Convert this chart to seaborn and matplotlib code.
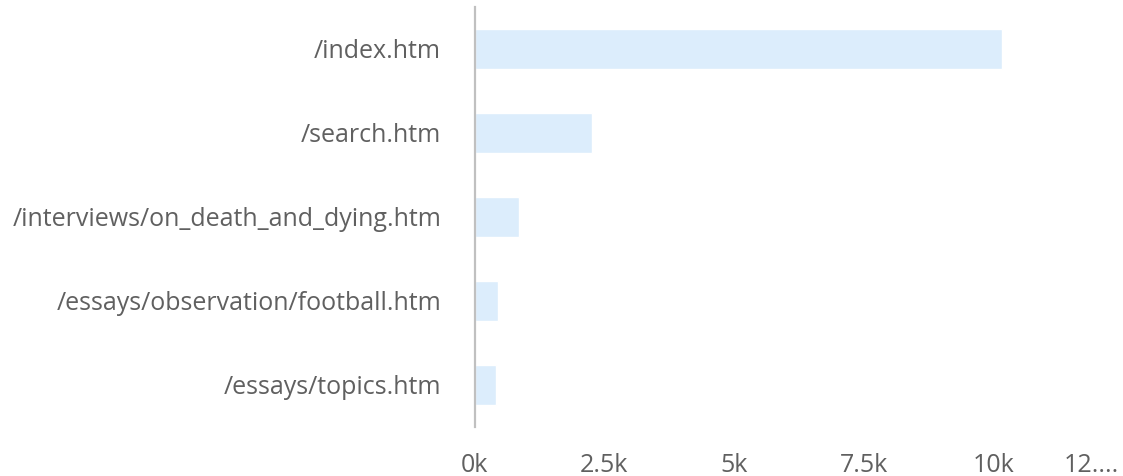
import matplotlib
matplotlib.use("Agg")
import matplotlib.pyplot as plt
import matplotlib.transforms as mtransforms
import seaborn as sns
import pandas as pd

# page paths and their hit counts (in thousands)
pages = [
    "/index.htm",
    "/search.htm",
    "/interviews/on_death_and_dying.htm",
    "/essays/observation/football.htm",
    "/essays/topics.htm",
]
hits_k = [10.17, 2.27, 0.86, 0.46, 0.42]

tick_values = [0, 2.5, 5, 7.5, 10, 12.5]
tick_labels = ["0k", "2.5k", "5k", "7.5k", "10k", "12...."]

df = pd.DataFrame({"page": pages, "hits": hits_k})

sns.set_theme(style="white")
plt.rcParams["font.family"] = ["Open Sans", "DejaVu Sans"]

fig = plt.figure(figsize=(11.23, 4.76), dpi=100)
ax = fig.add_axes([474.5 / 1123, 49 / 476, 1 - 474.5 / 1123, 420 / 476])

sns.barplot(data=df, x="hits", y="page", orient="h", color="#dcedfc",
            saturation=1, width=0.465, ax=ax)

ax.set_xlim(0, 12.5)
ax.set_ylim(4.5, -0.5)
ax.set_xlabel("")
ax.set_ylabel("")

# only the left axis line
for side in ["top", "right", "bottom"]:
    ax.spines[side].set_visible(False)
ax.spines["left"].set_color("#c0c0c0")
ax.spines["left"].set_linewidth(1.6)

ax.set_xticks(tick_values)
ax.set_xticklabels(tick_labels)
ax.tick_params(axis="x", length=0, pad=18.5, labelsize=18, labelcolor="#606060")
ax.tick_params(axis="y", length=0, pad=24, labelsize=18, labelcolor="#606060")

# last label is cut off at the edge, keep it inside the figure
last = ax.get_xticklabels()[-1]
last.set_horizontalalignment("right")
last.set_transform(last.get_transform() + mtransforms.ScaledTranslation(-4 / 100, 0, fig.dpi_scale_trans))

fig.savefig("out.png", dpi=100)
